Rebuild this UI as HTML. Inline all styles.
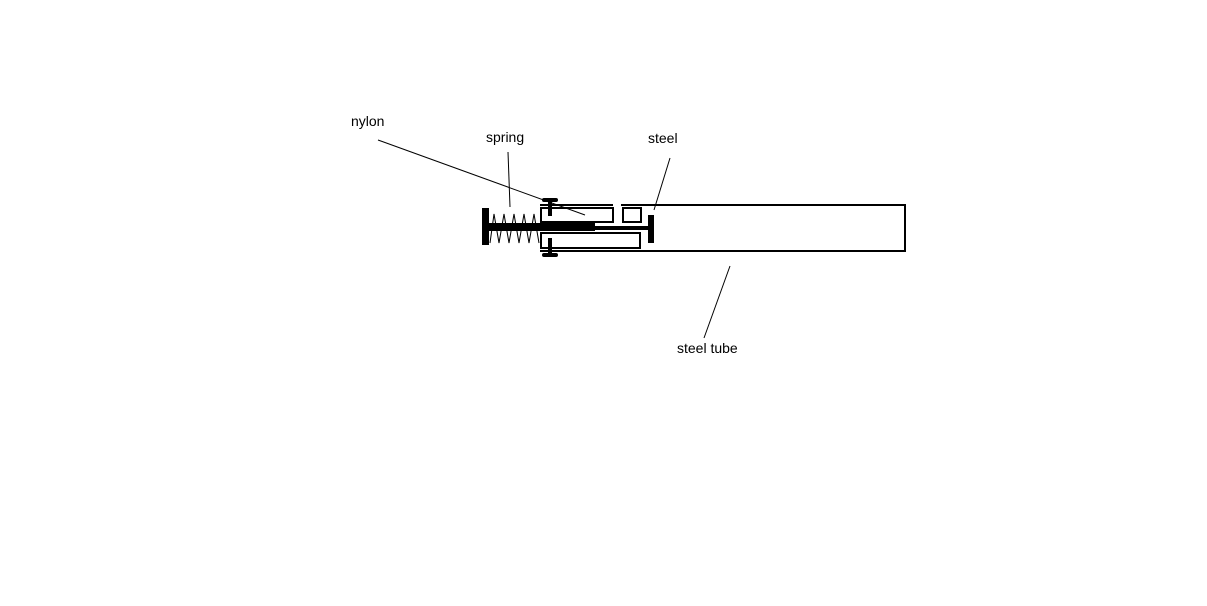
<!DOCTYPE html>
<html><head><style>
html,body{margin:0;padding:0;background:#fff;}
svg{display:block;}
text{font-family:"Liberation Sans",Arial,sans-serif;font-size:14px;fill:#000;}
</style></head><body>
<svg width="1207" height="606" viewBox="0 0 1207 606" xmlns="http://www.w3.org/2000/svg">
<rect width="1207" height="606" fill="#fff"/>
<g fill="none" stroke="#000" stroke-width="2">
  <!-- tube outline -->
  <path d="M540 205 H613 M621 205 H905 V251 H540"/>
  <!-- inner rects -->
  <rect x="541" y="208" width="72" height="14"/>
  <rect x="623" y="208" width="18" height="14"/>
  <rect x="541" y="233" width="99" height="15"/>
</g>
<!-- rods -->
<rect x="489" y="223" width="106" height="8" fill="#000"/>
<rect x="595" y="226" width="55" height="4" fill="#000"/>
<!-- plates -->
<rect x="482" y="208" width="7" height="37" fill="#000"/>
<rect x="648" y="215" width="6" height="28" fill="#000"/>
<!-- bolts -->
<rect x="542" y="198" width="16" height="4" rx="2" fill="#000"/>
<rect x="548" y="198" width="4" height="18" fill="#000"/>
<rect x="548" y="238" width="4" height="18" fill="#000"/>
<rect x="542" y="253" width="16" height="4" rx="2" fill="#000"/>
<!-- spring -->
<polyline fill="none" stroke="#000" stroke-width="1" points="490,243 494,214 499,243 504,214 509,243 514,214 519,243 524,214 529,243 534,214 539,243"/>
<!-- leaders -->
<g stroke="#000" stroke-width="1">
  <line x1="378" y1="140" x2="585" y2="215"/>
  <line x1="508" y1="152" x2="510" y2="207"/>
  <line x1="670" y1="158" x2="654" y2="210"/>
  <line x1="730" y1="266" x2="704" y2="338"/>
</g>
<text x="351" y="126">nylon</text>
<text x="486" y="142">spring</text>
<text x="648" y="143">steel</text>
<text x="677" y="353">steel tube</text>
</svg>
</body></html>
